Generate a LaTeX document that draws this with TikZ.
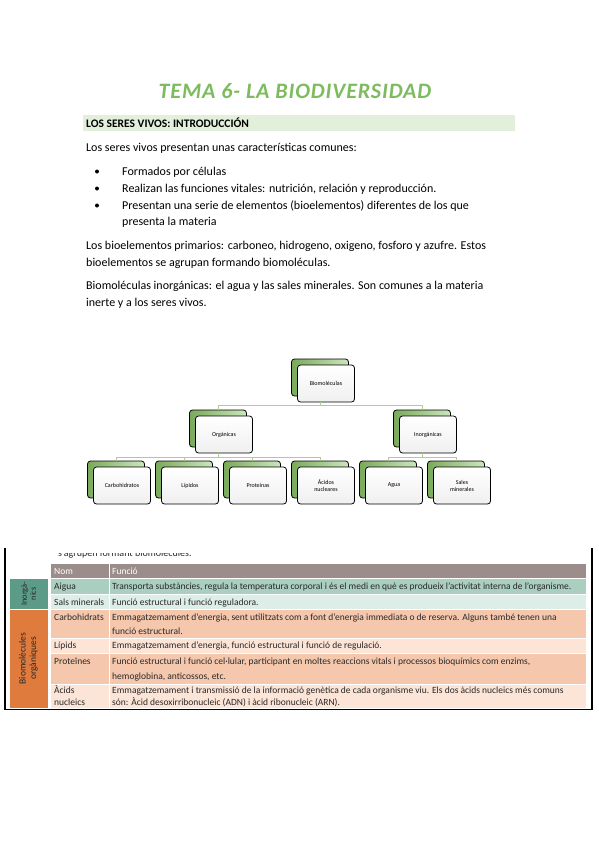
\documentclass[tikz,border=0pt]{standalone}
\usepackage{fontspec}
\setmainfont{Carlito}
\usetikzlibrary{calc}
\definecolor{titlegreen}{RGB}{125,187,94}
\definecolor{hdrgreen}{RGB}{226,239,218}
\definecolor{connc}{RGB}{169,209,142}
\definecolor{boxgdark}{RGB}{120,170,90}
\definecolor{boxglight}{RGB}{205,230,190}
\definecolor{thead}{RGB}{155,141,137}
\definecolor{tagua}{RGB}{170,206,192}
\definecolor{tsals}{RGB}{221,237,231}
\definecolor{tinorg}{RGB}{92,155,135}
\definecolor{torgd}{RGB}{245,200,174}
\definecolor{torgl}{RGB}{252,228,214}
\definecolor{torg}{RGB}{224,123,62}
\definecolor{tdark}{RGB}{40,40,40}
\tikzset{
  backbox/.style={draw=black, line width=0.8pt, rounded corners=3pt,
    minimum width=57pt, minimum height=37pt, inner sep=0pt,
    left color=boxgdark, right color=boxglight},
  frontbox/.style={draw=black, line width=0.8pt, rounded corners=3pt,
    minimum width=57pt, minimum height=37pt, inner sep=1pt,
    top color=white, bottom color=black!6, align=center,
    font=\fontsize{6}{7}\selectfont},
  conn/.style={draw=connc, line width=0.8pt},
  body/.style={anchor=base west, font=\fontsize{12}{14}\selectfont, inner sep=0pt},
  cell/.style={draw=white, line width=1pt},
  ttxt/.style={anchor=base west, font=\fontsize{9.5}{10.5}\selectfont, inner sep=0pt, text=tdark},
  bul/.style={circle, fill=black, inner sep=0pt, minimum size=4pt}
}
\newcommand\smbox[4]{%
  \node[backbox] (b#1) at (#2,#3) {};
  \node[frontbox] (#1) at ({#2+6},{#3+6}) {#4};}
\begin{document}
\begin{tikzpicture}[x=1pt,y=-1pt]
\useasboundingbox (0,0) rectangle (599,848);
\fill[white] (0,0) rectangle (599,848);

% title
\node[font=\fontsize{22}{24}\selectfont\bfseries\itshape\addfontfeature{LetterSpace=4}, text=titlegreen] (title) at (295,91) {TEMA 6- LA BIODIVERSIDAD};

% header bar
\fill[hdrgreen] (83,115.5) rectangle (515,131.5);
\node[anchor=base west, inner sep=0pt, font=\bfseries\fontsize{11.5}{12}\selectfont] (hdr) at (86,127.5) {LOS SERES VIVOS: INTRODUCCIÓN};

% body text
\node[body] (t1) at (86,151) {Los seres vivos presentan unas características comunes:};
\node[bul] (b1) at (97,171.5) {};
\node[body] (t2) at (122,175) {Formados por células};
\node[bul] (b2) at (97,188.5) {};
\node[body] (t3) at (122,192) {Realizan las funciones vitales: nutrición, relación y reproducción.};
\node[bul] (b3) at (97,205.5) {};
\node[body] (t4) at (122,209) {Presentan una serie de elementos (bioelementos) diferentes de los que};
\node[body] (t5) at (122,225) {presenta la materia};
\node[body] (t6) at (86,249) {Los bioelementos primarios: carboneo, hidrogeno, oxigeno, fosforo y azufre. Estos};
\node[body] (t7) at (86,266) {bioelementos se agrupan formando biomoléculas.};
\node[body] (t8) at (86,289) {Biomoléculas inorgánicas: el agua y las sales minerales. Son comunes a la materia};
\node[body] (t9) at (86,306) {inerte y a los seres vivos.};

% hierarchy diagram
\coordinate (j1) at (320,405);
\coordinate (j2) at (218,457);
\coordinate (j3) at (422,457);
\draw[conn] (118,457) -- (321,457);
\draw[conn] (388,457) -- (457,457);
\draw[conn] (218,405) -- (422,405);
\smbox{bio}{320}{377.5}{Biomoléculas}
\smbox{org}{218}{428.5}{Orgánicas}
\smbox{inorg}{422}{428.5}{Inorgánicas}
\smbox{carb}{116}{479.5}{Carbohidratos}
\smbox{lip}{184}{479.5}{Lípidos}
\smbox{prot}{252}{479.5}{Proteínas}
\smbox{acid}{320}{479.5}{Ácidos\\nucleares}
\smbox{agua}{388}{479.5}{Agua}
\smbox{sales}{456}{479.5}{Sales\\minerales}
\draw[conn] (bio.south -| bbio) -- (j1);
\draw[conn] (j1) -| (borg.north);
\draw[conn] (j1) -| (binorg.north);
\draw[conn] (org.south -| borg) -- (j2);
\draw[conn] (j2) -| (bcarb.north);
\draw[conn] (j2) -| (blip.north);
\draw[conn] (j2) -| (bprot.north);
\draw[conn] (j2) -| (bacid.north);
\draw[conn] (inorg.south -| binorg) -- (j3);
\draw[conn] (j3) -| (bagua.north);
\draw[conn] (j3) -| (bsales.north);

% table
\begin{scope}
\clip (0,553) rectangle (599,563);
\node[ttxt, font=\fontsize{10}{11}\selectfont] (cut) at (58,556) {s'agrupen formant biomolècules.};
\end{scope}
\fill[cell, fill=thead] (50,563) rectangle (109,578);
\fill[cell, fill=thead] (109,563) rectangle (586,578);
\draw[cell, fill=tagua] (50,578) rectangle (109,594);
\draw[cell, fill=tagua] (109,578) rectangle (586,594);
\draw[cell, fill=tsals] (50,594) rectangle (109,609.5);
\draw[cell, fill=tsals] (109,594) rectangle (586,609.5);
\draw[cell, fill=tinorg] (9,578) rectangle (48,609.5);
\draw[cell, fill=torgd] (50,609.5) rectangle (109,638);
\draw[cell, fill=torgd] (109,609.5) rectangle (586,638);
\draw[cell, fill=torgl] (50,638) rectangle (109,653);
\draw[cell, fill=torgl] (109,638) rectangle (586,653);
\draw[cell, fill=torgd] (50,653) rectangle (109,684);
\draw[cell, fill=torgd] (109,653) rectangle (586,684);
\draw[cell, fill=torgl] (50,684) rectangle (109,708);
\draw[cell, fill=torgl] (109,684) rectangle (586,708);
\draw[cell, fill=torg] (9,609.5) rectangle (48,708);

\node[ttxt, text=white] (hnom) at (54,574) {Nom};
\node[ttxt, text=white] (hfun) at (112,574) {Funció};

\node[rotate=90, align=center, font=\fontsize{8.4}{9}\selectfont, text=tdark, inner sep=0pt] (linorg) at (28.5,593.8) {Inorgà-\\nics};
\node[rotate=90, align=center, font=\fontsize{9.5}{10.5}\selectfont, text=tdark, inner sep=0pt] (lorg) at (28.5,658.5) {Biomolècules\\orgàniques};

\node[ttxt] (n1) at (54,589) {Aigua};
\node[ttxt] (f1) at (112,589) {Transporta substàncies, regula la temperatura corporal i és el medi en què es produeix l'activitat interna de l'organisme.};
\node[ttxt] (n2) at (54,605) {Sals minerals};
\node[ttxt] (f2) at (112,605) {Funció estructural i funció reguladora.};
\node[ttxt] (n3) at (54,620) {Carbohidrats};
\node[ttxt] (f3) at (112,620) {Emmagatzemament d'energia, sent utilitzats com a font d'energia immediata o de reserva. Alguns també tenen una};
\node[ttxt] (f3b) at (112,634) {funció estructural.};
\node[ttxt] (n4) at (54,648) {Lípids};
\node[ttxt] (f4) at (112,648) {Emmagatzemament d'energia, funció estructural i funció de regulació.};
\node[ttxt] (n5) at (54,664) {Proteïnes};
\node[ttxt] (f5) at (112,664) {Funció estructural i funció cel·lular, participant en moltes reaccions vitals i processos bioquímics com enzims,};
\node[ttxt] (f5b) at (112,679) {hemoglobina, anticossos, etc.};
\node[ttxt] (n6) at (54,693) {Àcids};
\node[ttxt] (n6b) at (54,705) {nucleics};
\node[ttxt] (f6) at (112,693) {Emmagatzemament i transmissió de la informació genètica de cada organisme viu. Els dos àcids nucleics més comuns};
\node[ttxt] (f6b) at (112,705) {són: Àcid desoxirribonucleic (ADN) i àcid ribonucleic (ARN).};

% frame
\draw[black, line width=1.2pt] (5,548) -- (5,709.5) -- (592,709.5) -- (592,548);
\end{tikzpicture}
\end{document}
